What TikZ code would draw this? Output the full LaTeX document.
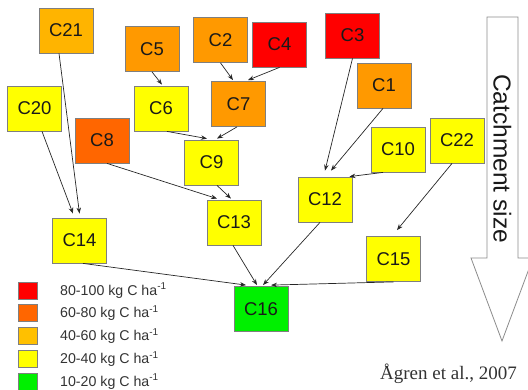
\documentclass[tikz,border=0pt]{standalone}
\usepackage{fontspec}
\setmainfont{Liberation Sans}
\newfontfamily\citefont{Liberation Serif}
\usetikzlibrary{arrows.meta,shapes.arrows}

\definecolor{cRed}{HTML}{FF0000}
\definecolor{cDkOrange}{HTML}{FF6600}
\definecolor{cOrange}{HTML}{FF9900}
\definecolor{cAmber}{HTML}{FFB400}
\definecolor{cLegAmber}{HTML}{FFC000}
\definecolor{cYellow}{HTML}{FFFF00}
\definecolor{cGreen}{HTML}{00F000}
\definecolor{boxEdge}{HTML}{7F7F7F}
\definecolor{txtGray}{HTML}{333333}

\tikzset{
  catch/.style={draw=boxEdge, line width=0.8pt, minimum width=54pt, minimum height=45pt,
    inner sep=0pt, font=\fontsize{18.5}{20}\selectfont, text=black!90},
  flow/.style={draw=black!85, line width=0.7pt, -{Stealth[length=6pt,width=4.5pt]}},
  legbox/.style={draw=boxEdge, line width=0.7pt, minimum width=19pt, minimum height=17pt, inner sep=0pt},
  legtext/.style={anchor=west, inner sep=0pt, font=\fontsize{14.2}{16}\selectfont, text=txtGray},
}

\begin{document}
\begin{tikzpicture}[x=1pt,y=-1pt]
\useasboundingbox (0,0) rectangle (528,390);
\clip (0,0) rectangle (528,390);

% catchment-size arrow
\draw[draw=black!45, fill=white, line width=0.8pt]
  (487,17) -- (518,17) -- (518,258) -- (533,258) -- (502,341) -- (471,258) -- (487,258) -- cycle;
\node[rotate=-90, font=\fontsize{24.5}{26}\selectfont, text=black!90] (size) at (502.5,158.5) {Catchment size};

% catchments
\node[catch, fill=cAmber]  (C21) at (66,30.5)   {C21};
\node[catch, fill=cOrange] (C5)  at (152,49)    {C5};
\node[catch, fill=cOrange] (C2)  at (220.5,40)  {C2};
\node[catch, fill=cRed]    (C4)  at (279.5,44.5){C4};
\node[catch, fill=cRed]    (C3)  at (352.5,35.5){C3};
\node[catch, fill=cOrange] (C1)  at (384,85.5)  {C1};
\node[catch, fill=cYellow] (C20) at (34.5,108.5){C20};
\node[catch, fill=cYellow] (C6)  at (161,108.5) {C6};
\node[catch, fill=cOrange] (C7)  at (238.5,104) {C7};
\node[catch, fill=cDkOrange] (C8) at (102,140.5){C8};
\node[catch, fill=cYellow] (C9)  at (211.5,162.5){C9};
\node[catch, fill=cYellow] (C10) at (398,149.5) {C10};
\node[catch, fill=cYellow] (C22) at (457,140.5) {C22};
\node[catch, fill=cYellow] (C12) at (325,199.5) {C12};
\node[catch, fill=cYellow] (C13) at (234,222.5) {C13};
\node[catch, fill=cYellow] (C14) at (79.5,240.5){C14};
\node[catch, fill=cYellow] (C15) at (393.5,259) {C15};
\node[catch, fill=cGreen]  (C16) at (261,309)   {C16};

% flow paths
\draw[flow] ([xshift=-7pt]C21.south) -- ([xshift=0pt,yshift=4pt]C14.north);
\draw[flow] ([xshift=7.5pt]C20.south) -- ([xshift=-6.5pt,yshift=4pt]C14.north);
\draw[flow] (C5.south) -- ([xshift=1pt,yshift=1pt]C6.north);
\draw[flow] (C2.south) -- ([xshift=-5.5pt,yshift=1pt]C7.north);
\draw[flow] (C4.south) -- ([xshift=9.5pt,yshift=1pt]C7.north);
\draw[flow] ([xshift=6pt]C6.south) -- ([xshift=-4.5pt,yshift=1pt]C9.north);
\draw[flow] ([xshift=-1.5pt]C7.south) -- ([xshift=5.5pt,yshift=1pt]C9.north);
\draw[flow] ([xshift=5pt]C8.south) -- ([xshift=-17pt,yshift=1pt]C13.north);
\draw[flow] ([xshift=5.5pt]C9.south) -- ([xshift=-3pt,yshift=1pt]C13.north);
\draw[flow] (C3.south) -- ([yshift=6pt]C12.north);
\draw[flow] ([xshift=-1pt]C1.south) -- ([xshift=6pt,yshift=6pt]C12.north);
\draw[flow] ([xshift=-15pt]C10.south) -- ([xshift=-3pt]C12.north east);
\draw[flow] ([xshift=-5pt]C22.south) -- ([xshift=3.5pt,yshift=6pt]C15.north);
\draw[flow] ([xshift=-5pt]C12.south) -- ([xshift=2pt,yshift=1pt]C16.north);
\draw[flow] (C15.south) -- ([xshift=10pt,yshift=1pt]C16.north);
\draw[flow] ([xshift=3.5pt]C14.south) -- ([xshift=-15pt,yshift=1pt]C16.north);
\draw[flow] ([xshift=-1pt]C13.south) -- ([xshift=-4pt,yshift=1pt]C16.north);

% legend
\node[legbox, fill=cRed]      (L1) at (27.5,290.5)  {};
\node[legbox, fill=cDkOrange] (L2) at (27.5,313.25) {};
\node[legbox, fill=cLegAmber] (L3) at (27.5,336)    {};
\node[legbox, fill=cYellow]   (L4) at (27.5,358.75) {};
\node[legbox, fill=cGreen]    (L5) at (27.5,381.5)  {};
\node[legtext] (T1) at (60,290.5)  {80-100 kg C ha\textsuperscript{-1}};
\node[legtext] (T2) at (60,313.25) {60-80 kg C ha\textsuperscript{-1}};
\node[legtext] (T3) at (60,336)    {40-60 kg C ha\textsuperscript{-1}};
\node[legtext] (T4) at (60,358.75) {20-40 kg C ha\textsuperscript{-1}};
\node[legtext] (T5) at (60,381.5)  {10-20 kg C ha\textsuperscript{-1}};

% reference
\node[anchor=base west, inner sep=0pt, font=\citefont\fontsize{19}{21}\selectfont, text=txtGray]
  (ref) at (380,380) {Ågren et al., 2007};
\end{tikzpicture}
\end{document}
